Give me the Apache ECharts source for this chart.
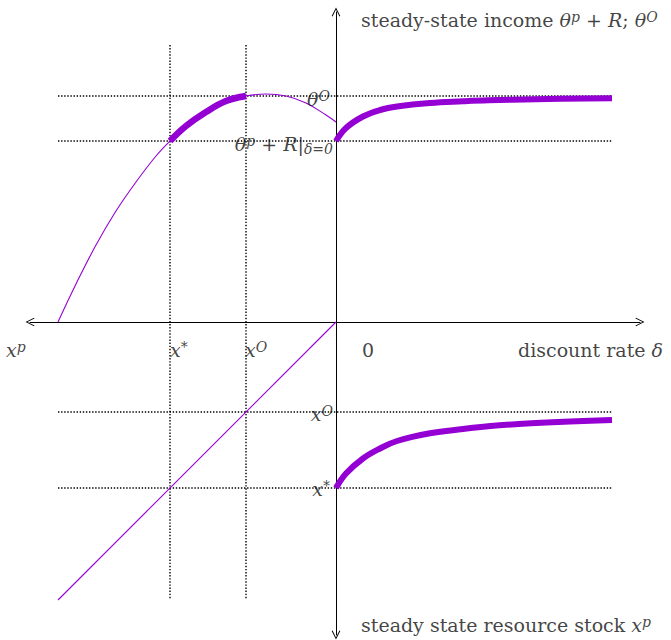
<!DOCTYPE html>
<html>
<head>
<meta charset="utf-8">
<script src="https://cdn.jsdelivr.net/npm/echarts@6/dist/echarts.min.js"></script>
<style>
  html, body { margin: 0; padding: 0; background: #fff; }
  #chart { width: 671px; height: 640px; }
</style>
</head>
<body>
<div id="chart"></div>
<script>
// key levels
const xP = -278, xStar = -166, xO = -90
const thetaO = 226, thetaPR0 = 181
const deltaEnd = 276
const guideTop = 277, guideBottom = -278

// upper left: steady-state income against resource stock
const stockX = [-278, -260, -240, -220, -200, -180, -166, -150, -130, -110, -90, -70, -50, -30, -10, 0]
const incomeY = [0, 38, 77, 111, 140, 166, 181, 196, 210, 221, 226, 228, 226, 219, 207, 200]

// right half: against discount rate
const deltaX = [0, 10, 27, 44, 61, 94, 127, 152, 200, 276]
const incomeDelta = [181, 194, 205.5, 212, 215.5, 219, 220.7, 221.7, 222.8, 223.7]
const stockDelta = [-166, -151.5, -136.5, -126.5, -119, -111.3, -107, -104.3, -101, -98]

// lower left: 45 degree line
const diagX = [-278, 0]
const diagY = [-278, 0]

const purple = '#9400d3'
const serif = '"DejaVu Serif", "Liberation Serif", serif'
const zip = (xs, ys) => xs.map((x, i) => [x, ys[i]])

// open arrow head, tip up
const arrowHead = 'path://M0,10 L5,0 L10,10 L9,10.5 L5,2.2 L1,10.5 Z'

const rich = {
  rm: { fontSize: 19, lineHeight: 22, verticalAlign: 'top' },
  it: { fontSize: 19, lineHeight: 22, verticalAlign: 'top', fontStyle: 'italic' },
  sup: { fontSize: 14, lineHeight: 10, verticalAlign: 'top', fontStyle: 'italic' },
  sub: { fontSize: 14, lineHeight: 14, verticalAlign: 'bottom', fontStyle: 'italic', padding: [14, 0, 0, 0] }
}

function lab(x, y, text, side) {
  return {
    value: [x, y],
    label: {
      show: true,
      formatter: text,
      position: side,
      distance: 0,
      color: '#111',
      fontFamily: serif,
      fontSize: 19,
      rich: rich
    }
  }
}

function guide(a, b) {
  return {
    type: 'line',
    data: [a, b],
    showSymbol: false,
    silent: true,
    color: '#000',
    lineStyle: { color: '#000', width: 1.4, type: [1.4, 1.7] },
    z: 1
  }
}

function curve(name, data, width, smooth) {
  return {
    name: name,
    type: 'line',
    data: data,
    smooth: smooth,
    showSymbol: false,
    color: purple,
    itemStyle: { color: purple },
    lineStyle: { color: purple, width: width },
    z: width > 2 ? 4 : 3
  }
}

const chart = echarts.init(document.getElementById('chart'), null, { renderer: 'svg' })

const thick = zip(stockX, incomeY).filter(p => p[0] >= xStar && p[0] <= xO)

chart.setOption({
  animation: false,
  grid: { left: 30, right: 31, top: 12, bottom: 5 },
  xAxis: {
    type: 'value', min: -306, max: 304,
    axisLine: {
      onZero: true,
      symbol: [arrowHead, arrowHead],
      symbolSize: [12, 9],
      lineStyle: { color: '#000', width: 1 }
    },
    axisTick: { show: false }, axisLabel: { show: false }, splitLine: { show: false }
  },
  yAxis: {
    type: 'value', min: -313, max: 310,
    axisLine: {
      show: true,
      onZero: true,
      symbol: [arrowHead, arrowHead],
      symbolSize: [12, 9],
      lineStyle: { color: '#000', width: 1 }
    },
    axisTick: { show: false }, axisLabel: { show: false }, splitLine: { show: false }
  },
  series: [
    guide([xP, thetaO], [deltaEnd, thetaO]),
    guide([xP, thetaPR0], [deltaEnd, thetaPR0]),
    guide([xP, xO], [deltaEnd, xO]),
    guide([xP, xStar], [deltaEnd, xStar]),
    guide([xStar, guideTop], [xStar, guideBottom]),
    guide([xO, guideTop], [xO, guideBottom]),
    curve('income vs stock', zip(stockX, incomeY), 1.1, 0.4),
    curve('income vs stock (selected)', thick, 6.5, 0.4),
    curve('stock vs stock', zip(diagX, diagY), 1.1, false),
    curve('income vs delta', zip(deltaX, incomeDelta), 6, 0.4),
    curve('stock vs delta', zip(deltaX, stockDelta), 6, 0.4),
    {
      name: 'labels',
      type: 'scatter',
      symbolSize: 0,
      clip: false,
      silent: true,
      z: 10,
      data: [
        lab(25, 301, '{rm|steady-state income }{it|θ}{sup|p}{rm| + }{it|R}{rm|; }{it|θ}{sup|O}', 'right'),
        lab(25, -304, '{rm|steady state resource stock }{it|x}{sup|p}', 'right'),
        lab(-330, -29, '{it|x}{sup|p}', 'right'),
        lab(-166, -29, '{it|x}{sup|*}', 'right'),
        lab(-91, -29, '{it|x}{sup|O}', 'right'),
        lab(26, -29, '{rm|0}', 'right'),
        lab(327, -29, '{rm|discount rate }{it|δ}', 'left'),
        lab(-6, 222, '{it|θ}{sup|O}', 'left'),
        lab(-3, 177, '{it|θ}{sup|p}{rm| + }{it|R}{rm||}{sub|δ=0}', 'left'),
        lab(-3, -93, '{it|x}{sup|O}', 'left'),
        lab(-6, -168, '{it|x}{sup|*}', 'left')
      ]
    }
  ]
})
</script>
</body>
</html>
